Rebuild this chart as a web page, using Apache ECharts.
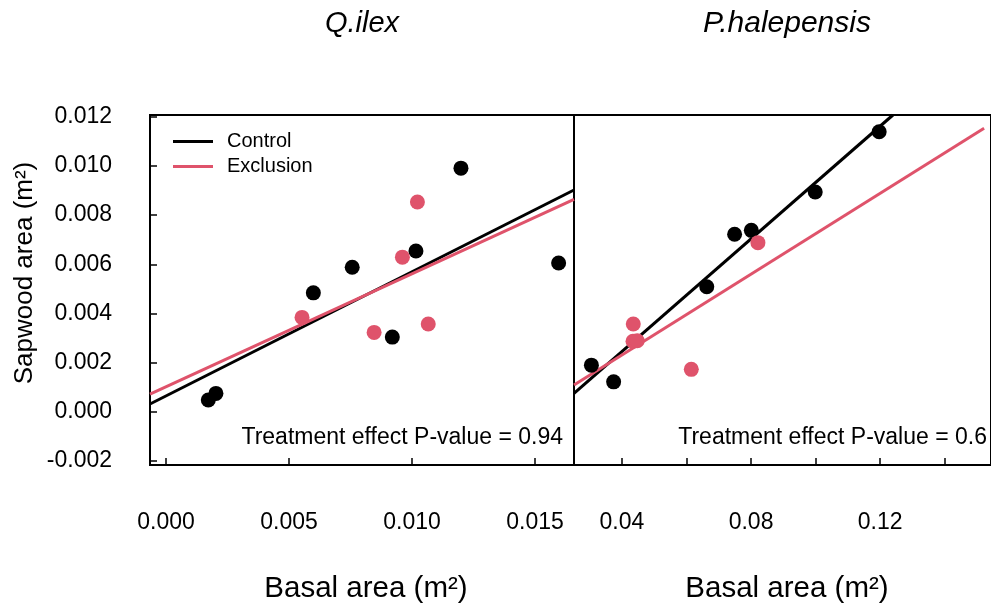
<!DOCTYPE html>
<html>
<head>
<meta charset="utf-8">
<script src="https://cdn.jsdelivr.net/npm/echarts@6/dist/echarts.min.js"></script>
<style>
html,body{margin:0;padding:0;background:#fff;}
#main{width:991px;height:611px;}
</style>
</head>
<body>
<div id="main"></div>
<script>
// Q.ilex panel
var ilexControl=[[0.00172,0.00048],[0.00203,0.00075],[0.00599,0.00484],[0.00757,0.00588],[0.00920,0.00304],[0.01016,0.00654],[0.01199,0.00991],[0.01596,0.00605]];
var ilexExclusion=[[0.00553,0.00384],[0.00846,0.00323],[0.00961,0.00629],[0.01022,0.00853],[0.01066,0.00357]];
var ilexControlFit=[[-0.00065,0.00032],[0.016585,0.00902]];
var ilexExclusionFit=[[-0.00065,0.00072],[0.016585,0.00864]];
// P.halepensis panel
var pinusControl=[[0.03056,0.00190],[0.03744,0.00122],[0.06629,0.00509],[0.07491,0.00722],[0.08009,0.00738],[0.09988,0.00894],[0.11968,0.01139]];
var pinusExclusion=[[0.04353,0.00357],[0.04344,0.00287],[0.04475,0.00289],[0.06150,0.00173],[0.08213,0.00688]];
var pinusControlFit=[[0.02517,0.00075],[0.12395,0.01207]];
var pinusExclusionFit=[[0.02517,0.00109],[0.15218,0.01153]];
// ticks
var yTicks=[-0.002,0,0.002,0.004,0.006,0.008,0.010,0.012];
var ilexTicks=[0,0.005,0.010,0.015];
var pinusTicks=[0.04,0.06,0.08,0.10,0.12,0.14];
var pinusLabels=[0.04,0.08,0.12];

var FONT="'Liberation Sans', Arial, sans-serif";
var RED='#DF536B';

function xAx(idx,min,max,ticks,labels,dec){
    return {
        type:'value',gridIndex:idx,min:min,max:max,
        splitLine:{show:false},
        axisLine:{show:false,onZero:false},
        axisTick:{show:true,inside:true,length:7,customValues:ticks,lineStyle:{color:'#000',width:1.5}},
        axisLabel:{show:true,customValues:labels,margin:46,color:'#000',fontSize:23,fontFamily:FONT,
            formatter:function(v){return v.toFixed(dec);}}
    };
}
function yAx(idx,show){
    return {
        type:'value',gridIndex:idx,min:-0.00216,max:0.01207,
        splitLine:{show:false},
        axisLine:{show:false,onZero:false},
        axisTick:{show:show,inside:true,length:7,customValues:yTicks,lineStyle:{color:'#000',width:1.5}},
        axisLabel:{show:show,customValues:yTicks,margin:38,color:'#000',fontSize:23,fontFamily:FONT,
            formatter:function(v){return v.toFixed(3);}}
    };
}
function pts(name,idx,data,color){
    return {name:name,type:'scatter',xAxisIndex:idx,yAxisIndex:idx,data:data,symbolSize:15,
        itemStyle:{color:color,opacity:1},z:3,silent:true};
}
function fit(name,idx,data,color){
    return {name:name,type:'line',xAxisIndex:idx,yAxisIndex:idx,data:data,showSymbol:false,
        lineStyle:{color:color,width:3},itemStyle:{color:color},z:2,silent:true,clip:true};
}
function txt(x,y,s,size,opt){
    var o={type:'text',x:x,y:y,style:{text:s,fill:'#000',font:size+'px '+FONT,textAlign:'center',textVerticalAlign:'middle'}};
    if(opt){for(var k in opt){o.style[k]=opt[k];}}
    return o;
}

var chart=echarts.init(document.getElementById('main'));
chart.setOption({
    animation:false,
    backgroundColor:'#fff',
    grid:[
        {left:150,top:115,width:424,height:350,show:true,borderColor:'#000',borderWidth:2,backgroundColor:'transparent'},
        {left:574,top:115,width:424,height:350,show:true,borderColor:'#000',borderWidth:2,backgroundColor:'transparent'}
    ],
    xAxis:[
        xAx(0,-0.00065,0.016585,ilexTicks,ilexTicks,3),
        xAx(1,0.02517,0.15432,pinusTicks,pinusLabels,2)
    ],
    yAxis:[yAx(0,true),yAx(1,false)],
    legend:{
        orient:'vertical',left:168,top:126,itemWidth:40,itemHeight:3,itemGap:4,icon:'rect',
        selectedMode:false,
        data:['Control','Exclusion'],
        textStyle:{fontSize:20,fontFamily:FONT,color:'#000',lineHeight:21,padding:[0,0,0,9]}
    },
    series:[
        fit('Control',0,ilexControlFit,'#000'),
        fit('Exclusion',0,ilexExclusionFit,RED),
        pts('Control',0,ilexControl,'#000'),
        pts('Exclusion',0,ilexExclusion,RED),
        fit('Control',1,pinusControlFit,'#000'),
        fit('Exclusion',1,pinusExclusionFit,RED),
        pts('Control',1,pinusControl,'#000'),
        pts('Exclusion',1,pinusExclusion,RED)
    ],
    graphic:[
        txt(362,24,'Q.ilex',29,{font:'italic 29px '+FONT}),
        txt(787,24,'P.halepensis',30,{font:'italic 30px '+FONT}),
        txt(366,589,'Basal area (m²)',29.5),
        txt(787,589,'Basal area (m²)',29.5),
        {type:'text',x:25,y:273,rotation:Math.PI/2,style:{text:'Sapwood area (m²)',fill:'#000',font:'26px '+FONT,textAlign:'center',textVerticalAlign:'middle'}},
        txt(563,438,'Treatment effect P-value = 0.94',23,{textAlign:'right'}),
        txt(987,438,'Treatment effect P-value = 0.6',23,{textAlign:'right'})
    ]
});
</script>
</body>
</html>
